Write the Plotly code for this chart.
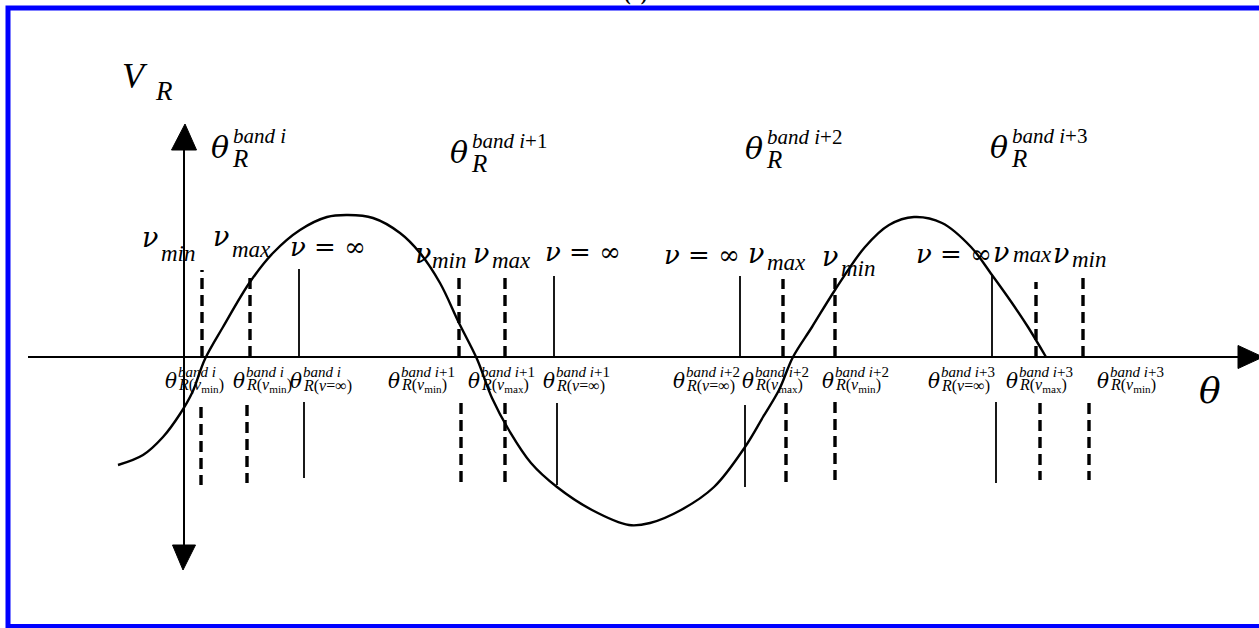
import plotly.graph_objects as go

# Figure size in px; drawing units are 1 px, origin at the crossing of the axes
W, H = 1259, 628
X0, Y0 = 183, 357          # pixel position of the origin (θ = 0, V_R = 0)

# ---------------- data ----------------
# V_R(θ) sketch curve
curve_theta = [-65, -40, -20, -3, 9, 22, 40, 67, 90, 117, 144, 165, 190, 217, 237,
               257, 276, 294, 309, 327, 348, 374, 409, 446, 467, 498, 531, 562, 580,
               596, 610, 629, 652, 682, 706, 731, 759, 788, 809, 829, 845, 863]
curve_v = [-108, -98, -80, -57, -36, -2, 30, 75, 104, 127, 140, 142, 139, 124, 104,
           74, 34, -2, -41, -75, -106, -130, -153, -168, -166, -153, -130, -90, -60,
           -33, 0, 30, 67, 110, 132, 140, 134, 110, 82, 54, 30, 0]

bands = ["i", "i+1", "i+2", "i+3"]

# reference angles: band index, kind, upper/lower segment positions
line_band = [0, 0, 0, 1, 1, 1, 2, 2, 2, 3, 3, 3]
line_kind = ["min", "max", "inf", "min", "max", "inf",
             "inf", "max", "min", "inf", "max", "min"]
line_theta_up = [19, 67, 116, 276, 322, 371, 557, 600, 652, 809, 853, 900]
line_v_top = [87, 85, 88, 80, 80, 81, 81, 78, 81, 83, 75, 84]
line_theta_low = [18, 64, 121, 278, 322, 374, 562, 603, 652, 813, 857, 906]
line_v_low_start = [-50, -48, -45, -46, -46, -46, -48, -46, -45, -45, -46, -46]
line_v_low_end = [-128, -126, -121, -125, -125, -128, -130, -126, -123, -126, -123, -123]
# subscript written under each angle
line_sub = ["min", "min", "inf", "min", "max", "inf",
            "inf", "max", "min", "inf", "max", "min"]

# ---------------- text layout (pixel positions: left x, baseline y) ----------------
band_label_pos = [(208, 157), (447, 162), (742, 158), (987, 157)]
nu_label_pos = [(142, 247, 161, 261), (213, 246, 232, 257), (290, 256, None, None),
                (415, 263, 432, 268), (473, 263, 492, 268), (545, 261, None, None),
                (664, 264, None, None), (748, 263, 767, 270), (822, 266, 841, 276),
                (916, 263, None, None), (993, 262, 1013, 262), (1053, 263, 1072, 267)]
angle_label_x = [164, 232, 289, 387, 467, 542, 672, 741, 821, 927, 1005, 1096]

SERIF = ("Liberation Serif", 0.216)
GREEK = ("DejaVu Serif", 0.236)


def px_to_data(xp, yp):
    return xp - X0, Y0 - yp


annotations = []


def put(xp, base, text, size, face=SERIF, bold=False):
    family, desc = face
    x, y = px_to_data(xp, base + desc * size)
    annotations.append(dict(
        x=x, y=y, xref="x", yref="y", xanchor="left", yanchor="bottom",
        text=text, showarrow=False, borderpad=0, borderwidth=0,
        font=dict(family=family, size=size, color="black",
                  weight="bold" if bold else "normal")))


fig = go.Figure()

# sketch curve
fig.add_trace(go.Scatter(x=curve_theta, y=curve_v, mode="lines",
                         line=dict(color="black", width=2.4, shape="spline", smoothing=1.0),
                         hoverinfo="skip"))

# reference-angle markers: dashed for ν_min / ν_max, solid for ν = ∞
dash_x, dash_y, solid_x, solid_y = [], [], [], []
for k in range(len(line_kind)):
    xs = [line_theta_up[k], line_theta_up[k], None,
          line_theta_low[k], line_theta_low[k], None]
    ys = [0, line_v_top[k], None, line_v_low_start[k], line_v_low_end[k], None]
    if line_kind[k] == "inf":
        solid_x += xs
        solid_y += ys
    else:
        dash_x += xs
        dash_y += ys
fig.add_trace(go.Scatter(x=dash_x, y=dash_y, mode="lines",
                         line=dict(color="black", width=3.4, dash="11px,6px"),
                         hoverinfo="skip"))
fig.add_trace(go.Scatter(x=solid_x, y=solid_y, mode="lines",
                         line=dict(color="black", width=1.8), hoverinfo="skip"))

# axes with arrow heads
x_left, x_right = -155, 1055
v_top, v_bottom = 207, -188
fig.add_trace(go.Scatter(x=[x_left, x_right], y=[0, 0], mode="lines",
                         line=dict(color="black", width=2), hoverinfo="skip"))
fig.add_trace(go.Scatter(x=[1, 1], y=[v_top, v_bottom], mode="lines",
                         line=dict(color="black", width=2), hoverinfo="skip"))
heads = [
    ([1 - 12.5, 1 + 12.5, 2, 1 - 12.5], [v_top, v_top, v_top + 26, v_top]),
    ([1 - 11.5, 1 + 11.5, 0, 1 - 11.5], [v_bottom, v_bottom, v_bottom - 25, v_bottom]),
    ([x_right, x_right, x_right + 25, x_right], [-11.5, 11.5, 0, -11.5]),
]
for hx, hy in heads:
    fig.add_trace(go.Scatter(x=hx, y=hy, mode="lines", fill="toself",
                             fillcolor="black", line=dict(color="black", width=1),
                             hoverinfo="skip"))

# ---------------- labels ----------------
put(122, 88, "<i>V</i>", 36)
put(155, 100, "<i>R</i>", 27)
put(1199, 402, "<i>θ</i>", 36, GREEK)
put(624, 1, "(a)", 20, bold=True)

# band labels θ_R^{band n}
for b, (xp, base) in enumerate(band_label_pos):
    num = bands[b][1:]
    put(xp + 3, base + 1, "<i>θ</i>", 30, GREEK)
    put(xp + 25, base - 14, "<i>band i</i>" + num, 21)
    put(xp + 24, base + 10, "<i>R</i>", 25)

# ν labels above each reference angle
sub_text = {"min": "<i>min</i>", "max": "<i>max</i>"}
for k, (xn, bn, xs, bs) in enumerate(nu_label_pos):
    if line_kind[k] == "inf":
        put(xn, bn, "<i>ν</i> = ∞", 26, GREEK)
    else:
        put(xn, bn, "<i>ν</i>", 27, GREEK)
        put(xs, bs, sub_text[line_kind[k]], 23)

# θ^{band n}_{R(...)} labels under the axis
for k, xp in enumerate(angle_label_x):
    num = bands[line_band[k]][1:]
    put(xp + 1, 388, "<i>θ</i>", 20, GREEK)
    put(xp + 14, 377, "<i>band i</i>" + num, 15)
    if line_sub[k] == "inf":
        sub = "<i>R</i>(<i>ν</i>=∞)"
    else:
        sub = "<i>R</i>(<i>ν</i><sub>" + line_sub[k] + "</sub>)"
    put(xp + 14, 392, sub, 16)

# blue frame
fig.add_shape(type="rect", xref="paper", yref="paper",
              x0=8 / W, x1=1.01, y0=1 - 626.5 / H, y1=1 - 8 / H,
              line=dict(color="#0000ff", width=5), fillcolor="rgba(0,0,0,0)")

fig.update_layout(
    width=W, height=H, margin=dict(l=0, r=0, t=0, b=0),
    paper_bgcolor="white", plot_bgcolor="white", showlegend=False,
    xaxis=dict(range=[-X0, W - X0], visible=False, fixedrange=True),
    yaxis=dict(range=[Y0 - H, Y0], visible=False, fixedrange=True),
    annotations=annotations,
)

fig.write_html("out.html")
